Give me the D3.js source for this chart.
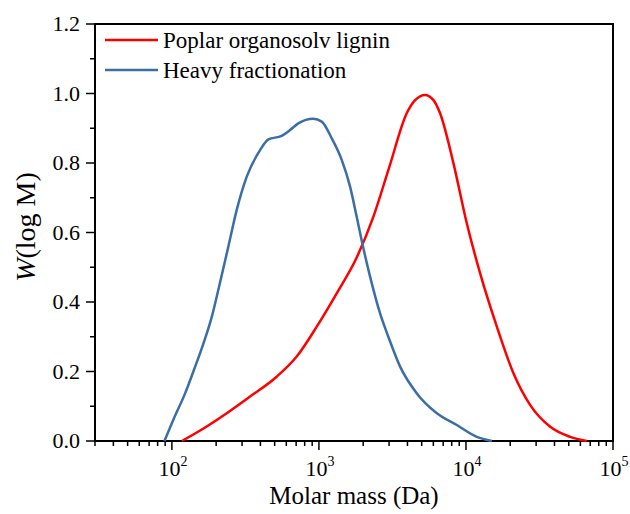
<!DOCTYPE html>
<html>
<head>
<meta charset="utf-8">
<script src="https://cdn.jsdelivr.net/npm/d3@7"></script>
<style>
  body { margin: 0; background: #fff; }
  svg { font-family: "Liberation Serif", "Times New Roman", serif; }
</style>
</head>
<body>
<div id="chart"></div>
<script>
// series: molar mass (Da) and W(log M)
var seriesNames = ["Poplar organosolv lignin", "Heavy fractionation"]
var seriesColors = ["#ff0000", "#3a6ea5"]

var poplarM = [117, 164, 236, 340, 516, 706, 966, 1321, 1807, 2344, 3013, 3954, 4510, 5272, 6012, 6668, 8222, 10139, 12474, 16218, 21038, 27290, 37411, 51050, 66374]
var poplarW = [0, 0.036, 0.080, 0.128, 0.185, 0.243, 0.329, 0.425, 0.528, 0.645, 0.789, 0.943, 0.981, 0.996, 0.981, 0.943, 0.799, 0.626, 0.483, 0.329, 0.195, 0.104, 0.041, 0.012, 0]

var heavyM = [89, 102, 123, 144, 164, 187, 212, 242, 276, 323, 398, 453, 558, 637, 724, 916, 1045, 1222, 1429, 1629, 1807, 1972, 2228, 2606, 2965, 3565, 4634, 6339, 8670, 11858, 15000]
var heavyW = [0, 0.06, 0.137, 0.214, 0.281, 0.358, 0.454, 0.559, 0.665, 0.761, 0.837, 0.868, 0.878, 0.895, 0.914, 0.927, 0.919, 0.871, 0.809, 0.732, 0.645, 0.569, 0.473, 0.367, 0.300, 0.214, 0.137, 0.080, 0.046, 0.012, 0]

var yTicks = [0, 0.2, 0.4, 0.6, 0.8, 1.0, 1.2]
var xTicks = [100, 1000, 10000, 100000]

var margin = {top: 24, right: 17, bottom: 73, left: 95},
    width = 630 - margin.left - margin.right,
    height = 514 - margin.top - margin.bottom

var svg = d3.select("#chart")
  .append("svg")
    .attr("width", 630)
    .attr("height", 514)
  .append("g")
    .attr("transform", "translate(" + margin.left + "," + margin.top + ")")

var x = d3.scaleLog()
  .domain([30, 100000])
  .range([0, width])

var y = d3.scaleLinear()
  .domain([0, 1.2])
  .range([height, 0])

// minor ticks
var minorX = []
for (var e = 1; e <= 4; e++) {
  for (var k = 2; k <= 9; k++) {
    var v = k * Math.pow(10, e)
    if (v >= 30 && v < 100000) minorX.push(v)
  }
}
var minorY = [0.1, 0.3, 0.5, 0.7, 0.9, 1.1]

// x axis
var gx = svg.append("g")
  .attr("transform", "translate(0," + height + ")")
gx.selectAll(".minor")
  .data(minorX)
  .enter().append("line")
  .attr("x1", function(d) { return x(d) })
  .attr("x2", function(d) { return x(d) })
  .attr("y1", 0).attr("y2", 5)
  .attr("stroke", "#000").attr("stroke-width", 1.5)
gx.selectAll(".major")
  .data(xTicks)
  .enter().append("line")
  .attr("x1", function(d) { return x(d) })
  .attr("x2", function(d) { return x(d) })
  .attr("y1", 0).attr("y2", 9)
  .attr("stroke", "#000").attr("stroke-width", 1.5)
var xl = gx.selectAll(".lab")
  .data(xTicks)
  .enter().append("text")
  .attr("x", function(d) { return x(d) + 1 })
  .attr("y", 35)
  .attr("text-anchor", "middle")
  .attr("font-size", 22)
xl.append("tspan").text("10")
xl.append("tspan")
  .attr("dy", -10)
  .attr("font-size", 14)
  .text(function(d) { return Math.round(Math.log10(d)) })

// y axis
var gy = svg.append("g")
gy.selectAll(".minor")
  .data(minorY)
  .enter().append("line")
  .attr("x1", -5).attr("x2", 0)
  .attr("y1", function(d) { return y(d) })
  .attr("y2", function(d) { return y(d) })
  .attr("stroke", "#000").attr("stroke-width", 1.5)
gy.selectAll(".major")
  .data(yTicks)
  .enter().append("line")
  .attr("x1", -9).attr("x2", 0)
  .attr("y1", function(d) { return y(d) })
  .attr("y2", function(d) { return y(d) })
  .attr("stroke", "#000").attr("stroke-width", 1.5)
gy.selectAll(".lab")
  .data(yTicks)
  .enter().append("text")
  .attr("x", -15)
  .attr("y", function(d) { return y(d) })
  .attr("dy", "0.34em")
  .attr("text-anchor", "end")
  .attr("font-size", 22)
  .text(function(d) { return d.toFixed(1) })

// frame
svg.append("rect")
  .attr("width", width)
  .attr("height", height)
  .attr("fill", "none")
  .attr("stroke", "#000")
  .attr("stroke-width", 2)

// lines
var line = d3.line()
  .x(function(d) { return x(d[0]) })
  .y(function(d) { return y(d[1]) })
  .curve(d3.curveMonotoneX)

var series = [
  d3.zip(poplarM, poplarW),
  d3.zip(heavyM, heavyW)
]

svg.selectAll(".curve")
  .data(series)
  .enter().append("path")
  .attr("d", line)
  .attr("fill", "none")
  .attr("stroke", function(d, i) { return seriesColors[i] })
  .attr("stroke-width", 2.5)

// legend
var leg = svg.selectAll(".leg")
  .data(seriesNames)
  .enter().append("g")
  .attr("transform", function(d, i) { return "translate(10," + (16 + i * 30) + ")" })
leg.append("line")
  .attr("x1", 0).attr("x2", 53)
  .attr("stroke", function(d, i) { return seriesColors[i] })
  .attr("stroke-width", 2.5)
leg.append("text")
  .attr("x", 58)
  .attr("dy", "0.34em")
  .attr("font-size", 23)
  .text(function(d) { return d })

// axis titles
svg.append("text")
  .attr("x", width / 2)
  .attr("y", height + 63)
  .attr("text-anchor", "middle")
  .attr("font-size", 25)
  .text("Molar mass (Da)")

var yt = svg.append("text")
  .attr("transform", "translate(-60,203) rotate(-90)")
  .attr("text-anchor", "middle")
  .attr("font-size", 28)
yt.append("tspan").attr("font-style", "italic").text("W")
yt.append("tspan").text("(log M)")
</script>
</body>
</html>
